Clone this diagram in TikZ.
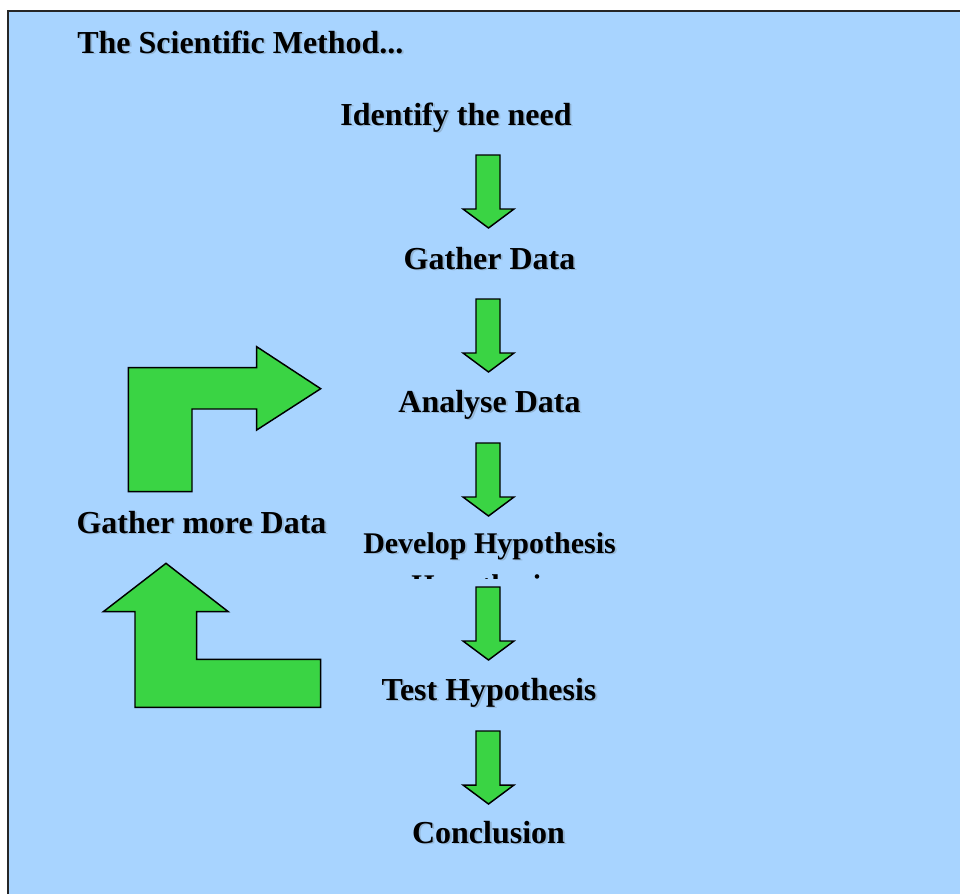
\documentclass[tikz,border=0pt]{standalone}
\usepackage{fontspec}
\setmainfont{Liberation Serif}
\definecolor{bgblue}{RGB}{168,212,255}
\definecolor{agreen}{RGB}{58,212,68}
\tikzset{
  txt/.style={inner sep=0pt, font=\bfseries\fontsize{24}{28}\selectfont, text=black},
  txtsmall/.style={inner sep=0pt, font=\bfseries\fontsize{22.5}{26}\selectfont, text=black},
  shadowed/.style={text=black!70, text opacity=0.22, xshift=1.4pt, yshift=-1.4pt},
  garrow/.style={fill=agreen, draw=black, line width=1.1pt, line join=miter},
}
\newcommand{\shnode}[4]{%
  \node[#3, shadowed] at (#2) {#4};
  \node[#3] (#1) at (#2) {#4};}
\newcommand{\gdownarrow}[1]{%
  \draw[garrow] (476,#1) -- (500,#1) -- (500,#1+54) -- (514,#1+54) -- (488.5,#1+73) -- (463,#1+54) -- (476,#1+54) -- cycle;}
\begin{document}
\begin{tikzpicture}[x=0.75pt,y=-0.75pt]
\useasboundingbox (0,0) rectangle (960,894);
\fill[white] (0,0) rectangle (960,894);
\fill[bgblue] (8,11) rectangle (960,894);
\draw[line width=1.5pt, black!85] (8,894) -- (8,11) -- (960,11);

% texts
\shnode{title}{77,53}{txt, anchor=base west}{The Scientific Method...}
\shnode{identify}{456,125}{txt, anchor=base}{Identify the need}
\shnode{gather}{489.5,269}{txt, anchor=base}{Gather Data}
\shnode{analyse}{489.5,412}{txt, anchor=base}{Analyse Data}
\shnode{develop}{489.5,553}{txtsmall, anchor=base}{Develop Hypothesis}
\shnode{test}{489,700}{txt, anchor=base}{Test Hypothesis}
\shnode{conclusion}{488.5,843}{txt, anchor=base}{Conclusion}
\shnode{more}{201.5,533}{txt, anchor=base}{Gather more Data}

% clipped second line
\begin{scope}
  \clip (380,560) rectangle (640,578);
  \node[txtsmall, anchor=base west] (hidden) at (411,595) {Hypothesis};
\end{scope}

% down arrows
\gdownarrow{155}
\gdownarrow{299}
\gdownarrow{443}
\gdownarrow{587}
\gdownarrow{731}

% upper bent arrow
\draw[garrow] (128.3,491.7) -- (128.3,367.7) -- (256.7,367.7) -- (256.7,346.7)
  -- (320.7,388.7) -- (256.7,430) -- (256.7,409) -- (192,409) -- (192,491.7) -- cycle;
% lower bent arrow
\draw[garrow] (166,563.3) -- (228.3,611.7) -- (196.7,611.7) -- (196.7,659.3)
  -- (320.7,659.3) -- (320.7,707.3) -- (135,707.3) -- (135,611.7) -- (103.3,611.7) -- cycle;
\end{tikzpicture}
\end{document}
